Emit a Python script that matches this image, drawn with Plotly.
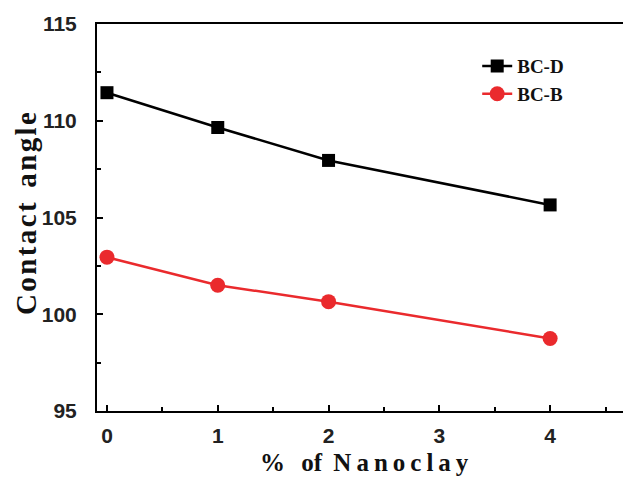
import plotly.graph_objects as go

nanoclay = [0, 1, 2, 4]
bc_d = [111.45, 109.65, 107.95, 105.65]
bc_b = [102.95, 101.5, 100.65, 98.75]

fig = go.Figure()
fig.add_trace(go.Scatter(x=nanoclay, y=bc_d, name="BC-D", mode="lines+markers",
                         line=dict(color="black", width=2.5),
                         marker=dict(symbol="square", size=13, color="black")))
fig.add_trace(go.Scatter(x=nanoclay, y=bc_b, name="BC-B", mode="lines+markers",
                         line=dict(color="#ea2a2d", width=2.5),
                         marker=dict(symbol="circle", size=15, color="#ea2a2d")))

tickfont = dict(family="Liberation Sans, Arial", size=21, color="#222", weight="bold")
titlefont = dict(family="Liberation Serif, Times New Roman", color="#111", weight="bold")
ts = "\u2009"
hs = "\u200a"
xtitle = "%" + ts + ts + " of" + ts + " " + ts.join("Nanoclay")
ytitle = hs.join("Contact") + "\u00a0\u00a0" + hs.join("angle")
fig.update_layout(
    width=623, height=470,
    margin=dict(l=89, r=0, t=16, b=67, autoexpand=False),
    plot_bgcolor="white", paper_bgcolor="white",
    showlegend=True,
    legend=dict(x=0.712, y=0.94, xanchor="left", yanchor="top",
                bgcolor="rgba(0,0,0,0)",
                font=dict(family="Liberation Serif, Times New Roman", size=19, color="#111", weight="bold"),
                tracegroupgap=0),
    xaxis=dict(range=[-0.09, 4.73], showgrid=False, zeroline=False, automargin=False,
               showline=True, linecolor="black", linewidth=2, mirror=True,
               ticks="inside", ticklen=6, tickwidth=2, tickcolor="black",
               tickvals=[0, 1, 2, 3, 4],
               minor=dict(ticks="inside", ticklen=4, tickwidth=1.5, tickcolor="black", dtick=0.5, tick0=0),
               tickfont=tickfont, ticklabelstandoff=5),
    yaxis=dict(range=[95, 115], showgrid=False, zeroline=False, automargin=False,
               showline=True, linecolor="black", linewidth=2,
               ticks="inside", ticklen=6, tickwidth=2, tickcolor="black",
               tickvals=[95, 100, 105, 110, 115],
               minor=dict(ticks="inside", ticklen=4, tickwidth=1.5, tickcolor="black", dtick=2.5, tick0=95),
               tickfont=tickfont, ticklabelstandoff=14),
    annotations=[
        dict(text=xtitle, xref="paper", yref="paper", x=0.5, y=-0.134,
             xanchor="center", yanchor="middle", showarrow=False,
             font=dict(size=25, **titlefont)),
        dict(text=ytitle, xref="paper", yref="paper", x=-0.134, y=0.51,
             xanchor="center", yanchor="middle", showarrow=False, textangle=-90,
             font=dict(size=29, **titlefont)),
    ],
)
fig.write_html("out.html")
